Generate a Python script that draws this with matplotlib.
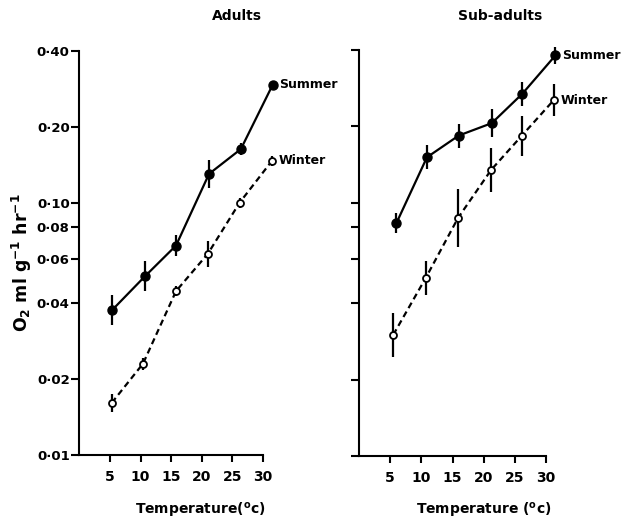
"""Oxygen consumption vs temperature, adults and sub-adults, summer and winter."""

import matplotlib

matplotlib.use("Agg")

import matplotlib.pyplot as plt
from matplotlib.ticker import FixedFormatter, FixedLocator, NullLocator


TEMP_TICKS = [5, 10, 15, 20, 25, 30]
RATE_TICKS = [0.01, 0.02, 0.04, 0.06, 0.08, 0.10, 0.20, 0.40]
RATE_TICK_LABELS = ["0·01", "0·02", "0·04", "0·06", "0·08", "0·10", "0·20", "0·40"]

# Adults
adult_summer_temp = [5.3, 10.7, 15.8, 21.2, 26.4, 31.6]
adult_summer_rate = [0.0374, 0.051, 0.0676, 0.130, 0.163, 0.293]
adult_summer_low = [0.0326, 0.0445, 0.0612, 0.1145, 0.154, 0.283]
adult_summer_high = [0.0429, 0.0585, 0.0747, 0.148, 0.172, 0.304]

adult_winter_temp = [5.3, 10.4, 15.8, 21.0, 26.2, 31.5]
adult_winter_rate = [0.0161, 0.0230, 0.0446, 0.0627, 0.100, 0.1466]
adult_winter_low = [0.0148, 0.0218, 0.0426, 0.0557, 0.0955, 0.140]
adult_winter_high = [0.0175, 0.0243, 0.0467, 0.0706, 0.1047, 0.1535]

# Sub-adults
sub_summer_temp = [6.0, 10.9, 16.0, 21.3, 26.2, 31.5]
sub_summer_rate = [0.083, 0.151, 0.184, 0.206, 0.269, 0.381]
sub_summer_low = [0.0758, 0.1353, 0.1649, 0.1813, 0.241, 0.354]
sub_summer_high = [0.0909, 0.1685, 0.2053, 0.234, 0.300, 0.410]

sub_winter_temp = [5.5, 10.7, 15.9, 21.2, 26.1, 31.2]
sub_winter_rate = [0.0301, 0.0504, 0.0871, 0.1347, 0.1836, 0.2533]
sub_winter_low = [0.0246, 0.0432, 0.0668, 0.1102, 0.153, 0.219]
sub_winter_high = [0.0368, 0.0589, 0.1135, 0.1646, 0.2203, 0.293]

FONT = "DejaVu Sans"


def draw_series(ax, temp, rate, low, high, label, summer):
    yerr = [
        [r - lo for r, lo in zip(rate, low)],
        [hi - r for r, hi in zip(rate, high)],
    ]
    ax.errorbar(
        temp, rate, yerr=yerr, fmt="none", ecolor="black",
        elinewidth=1.6, capsize=0, clip_on=False, zorder=2,
    )
    if summer:
        ax.plot(temp, rate, color="black", linewidth=1.6, marker="o",
                markersize=6.5, markerfacecolor="black", clip_on=False, zorder=3)
    else:
        ax.plot(temp, rate, color="black", linewidth=1.6, linestyle=(0, (2.8, 1.8)),
                marker="o", markersize=5, markerfacecolor="white",
                markeredgecolor="black", markeredgewidth=1.3, clip_on=False, zorder=3)
    ax.annotate(label, (temp[-1], rate[-1]), xytext=(5, 0), textcoords="offset points",
                ha="left", va="center", fontsize=9, fontweight="bold",
                family=FONT, annotation_clip=False)


def style_axes(ax, show_labels):
    ax.set_yscale("log")
    ax.set_ylim(0.01, 0.40)
    ax.set_xlim(0, 34)
    for side in ("top", "right"):
        ax.spines[side].set_visible(False)
    for side in ("left", "bottom"):
        ax.spines[side].set_linewidth(1.5)
    ax.spines["bottom"].set_bounds(0, 30)

    ax.xaxis.set_major_locator(FixedLocator(TEMP_TICKS))
    ax.yaxis.set_major_locator(FixedLocator(RATE_TICKS))
    ax.yaxis.set_minor_locator(NullLocator())
    ax.tick_params(axis="x", direction="out", length=5, width=1.5, pad=6,
                   labelsize=10)
    ax.tick_params(axis="y", direction="out", length=6, width=1.5, pad=1,
                   labelsize=9.5, labelleft=show_labels)
    if show_labels:
        ax.yaxis.set_major_formatter(FixedFormatter(RATE_TICK_LABELS))
    for tick in ax.get_xticklabels() + ax.get_yticklabels():
        tick.set_fontweight("bold")


def main() -> None:
    plt.rcParams["font.family"] = FONT
    fig = plt.figure(figsize=(6.24, 5.21), dpi=100)
    ax_adult = fig.add_axes([0.1272, 0.1267, 0.3333, 0.776])
    ax_sub = fig.add_axes([0.5753, 0.1248, 0.3397, 0.779])

    style_axes(ax_adult, True)
    style_axes(ax_sub, False)

    draw_series(ax_adult, adult_summer_temp, adult_summer_rate, adult_summer_low,
                adult_summer_high, "Summer", True)
    draw_series(ax_adult, adult_winter_temp, adult_winter_rate, adult_winter_low,
                adult_winter_high, "Winter", False)
    draw_series(ax_sub, sub_summer_temp, sub_summer_rate, sub_summer_low,
                sub_summer_high, "Summer", True)
    draw_series(ax_sub, sub_winter_temp, sub_winter_rate, sub_winter_low,
                sub_winter_high, "Winter", False)

    fig.text(237 / 624, 1 - 16 / 521, "Adults", ha="center", va="center",
             fontsize=10, fontweight="bold")
    fig.text(500 / 624, 1 - 16 / 521, "Sub-adults", ha="center", va="center",
             fontsize=10, fontweight="bold")
    fig.text(200 / 624, 1 - 510 / 521, r"Temperature($^{\mathbf{o}}$c)",
             ha="center", va="center", fontsize=10, fontweight="bold")
    fig.text(484 / 624, 1 - 511 / 521, r"Temperature ($^{\mathbf{o}}$c)",
             ha="center", va="center", fontsize=10, fontweight="bold")
    fig.text(22 / 624, 1 - 263 / 521, r"O$_\mathbf{2}$ ml g$^{\mathbf{-1}}$ hr$^{\mathbf{-1}}$",
             rotation=90, ha="center", va="center", fontsize=12.5, fontweight="bold")

    fig.savefig("out.png", dpi=100, facecolor="white")
    plt.close(fig)


if __name__ == "__main__":
    main()
